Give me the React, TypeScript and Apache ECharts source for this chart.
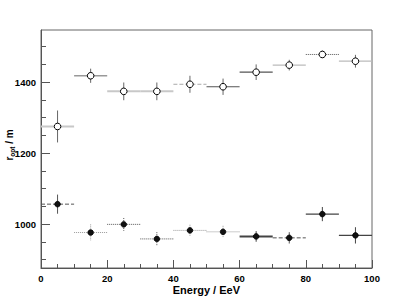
import React, { useEffect, useRef } from "react";
import * as echarts from "echarts";

// ---- data ----
const energyBins = [5, 15, 25, 35, 45, 55, 65, 75, 85, 95];
const binHalfWidth = [5, 5, 5, 5, 5, 5, 5, 5, 5, 5];
const rOptOpen = [1275, 1418, 1374, 1374, 1394, 1387, 1428, 1448, 1478, 1459];
const rOptOpenErr = [45, 20, 25, 25, 24, 23, 22, 15, 11, 18];
const rOptFilled = [1056, 976, 999, 958, 982, 978, 965, 961, 1028, 968];
const rOptFilledErr = [27, 23, 18, 19, 16, 17, 15, 16, 20, 23];
const yMajorTicks = [1000, 1200, 1400];
const yMinorTicks = [900, 950, 1000, 1050, 1100, 1150, 1200, 1250, 1300, 1350, 1400, 1450, 1500];

// ---- styles (per point error-bar appearance) ----
type BarStyle = { c: string; w: number; d: string };
const openBarStyles: BarStyle[] = [
  { c: "#c8c8c8", w: 2, d: "solid" },
  { c: "#999999", w: 1.5, d: "solid" },
  { c: "#c8c8c8", w: 2, d: "solid" },
  { c: "#c8c8c8", w: 2, d: "solid" },
  { c: "#aaaaaa", w: 1, d: "dashed" },
  { c: "#555555", w: 1.2, d: "solid" },
  { c: "#555555", w: 1.2, d: "solid" },
  { c: "#bbbbbb", w: 1.2, d: "solid" },
  { c: "#555555", w: 1, d: "dotted" },
  { c: "#bbbbbb", w: 1.2, d: "solid" },
];
const filledBarStyles: BarStyle[] = [
  { c: "#555555", w: 1, d: "dashed" },
  { c: "#999999", w: 1, d: "dotted" },
  { c: "#555555", w: 1, d: "dotted" },
  { c: "#555555", w: 1, d: "dotted" },
  { c: "#999999", w: 1, d: "dotted" },
  { c: "#999999", w: 1, d: "dotted" },
  { c: "#444444", w: 2, d: "solid" },
  { c: "#555555", w: 1, d: "dashed" },
  { c: "#444444", w: 1.2, d: "solid" },
  { c: "#444444", w: 1.2, d: "solid" },
];

const FONT = "Liberation Sans, Arial, sans-serif";

function makeRender(styles: BarStyle[], open: boolean) {
  return (params: any, api: any) => {
    const x = api.value(0);
    const y = api.value(1);
    const xe = api.value(2);
    const ye = api.value(3);
    const s = styles[params.dataIndex];
    const c = api.coord([x, y]);
    const l = api.coord([x - xe, y]);
    const r = api.coord([x + xe, y]);
    const t = api.coord([x, y + ye]);
    const b = api.coord([x, y - ye]);
    const dash = s.d === "solid" ? undefined : s.d === "dashed" ? [4, 2] : [1, 1];
    return {
      type: "group",
      children: [
        {
          type: "line",
          shape: { x1: l[0], y1: l[1], x2: r[0], y2: r[1] },
          style: { stroke: s.c, lineWidth: s.w, lineDash: dash },
        },
        {
          type: "line",
          shape: { x1: t[0], y1: t[1], x2: b[0], y2: b[1] },
          style: { stroke: open ? "#666666" : s.c, lineWidth: 1, lineDash: s.d === "dotted" ? [1, 1] : undefined },
        },
        {
          type: "circle",
          shape: { cx: c[0], cy: c[1], r: open ? 3.3 : 2.8 },
          style: open
            ? { fill: "#ffffff", stroke: "#000000", lineWidth: 1 }
            : { fill: "#111111", stroke: "#000000", lineWidth: 0.8 },
        },
      ],
    };
  };
}

export default function App() {
  const ref = useRef<HTMLDivElement>(null);
  useEffect(() => {
    document.body.style.margin = "0";
    const chart = echarts.init(ref.current!, null, { renderer: "svg" });
    const openData = energyBins.map((e, i) => [e, rOptOpen[i], binHalfWidth[i], rOptOpenErr[i]]);
    const filledData = energyBins.map((e, i) => [e, rOptFilled[i], binHalfWidth[i], rOptFilledErr[i]]);
    const yMin = 876;
    const yMax = 1547;
    const labelStyle = { color: "#000", fontFamily: FONT, fontWeight: "bold" as const, fontSize: 9.5 };
    chart.setOption({
      animation: false,
      backgroundColor: "#ffffff",
      grid: {
        left: 41,
        right: 43,
        top: 30,
        bottom: 32,
        show: true,
        borderColor: "#666666",
        borderWidth: 1,
        containLabel: false,
      },
      xAxis: {
        type: "value",
        min: 0,
        max: 100,
        interval: 20,
        axisLine: { show: true, lineStyle: { color: "#555555" } },
        axisTick: { show: true, inside: true, length: 8, lineStyle: { color: "#555555" } },
        minorTick: { show: true, splitNumber: 4, length: 4, lineStyle: { color: "#555555" } },
        splitLine: { show: false },
        axisLabel: { ...labelStyle, margin: 5, formatter: (v: number) => String(v) },
      },
      yAxis: [
        {
          type: "value",
          min: yMin,
          max: yMax,
          axisLine: { show: true, lineStyle: { color: "#555555" } },
          axisTick: { show: true, inside: true, length: 9, customValues: yMajorTicks, lineStyle: { color: "#555555" } },
          axisLabel: { ...labelStyle, margin: 5, customValues: yMajorTicks, formatter: (v: number) => String(v) },
          splitLine: { show: false },
        },
        {
          type: "value",
          min: yMin,
          max: yMax,
          position: "left",
          axisLine: { show: false },
          axisTick: { show: true, inside: true, length: 5, customValues: yMinorTicks, lineStyle: { color: "#555555" } },
          axisLabel: { show: false },
          splitLine: { show: false },
        },
      ],
      series: [
        {
          type: "custom",
          renderItem: makeRender(filledBarStyles, false),
          data: filledData,
          encode: { x: 0, y: 1 },
          clip: false,
        },
        {
          type: "custom",
          renderItem: makeRender(openBarStyles, true),
          data: openData,
          encode: { x: 0, y: 1 },
          clip: false,
        },
      ],
      graphic: [
        {
          type: "text",
          x: 240,
          y: 290,
          style: {
            text: "Energy / EeV",
            fill: "#000",
            font: `bold 11px ${FONT}`,
            align: "right",
            verticalAlign: "middle",
          },
        },
        {
          type: "text",
          x: 9,
          y: 145,
          rotation: Math.PI / 2,
          style: {
            text: "{r|r}{s|opt}{n| / m}",
            align: "center",
            verticalAlign: "middle",
            rich: {
              r: { fontSize: 10, fontWeight: "bold", fontFamily: FONT, fill: "#000", lineHeight: 14, verticalAlign: "middle" },
              s: { fontSize: 6.5, fontWeight: "bold", fontFamily: FONT, fill: "#000", lineHeight: 8, verticalAlign: "bottom" },
              n: { fontSize: 10, fontWeight: "bold", fontFamily: FONT, fill: "#000", lineHeight: 14, verticalAlign: "middle" },
            },
          },
        },
      ],
    });
    return () => chart.dispose();
  }, []);
  return <div ref={ref} style={{ width: 415, height: 300 }} />;
}
